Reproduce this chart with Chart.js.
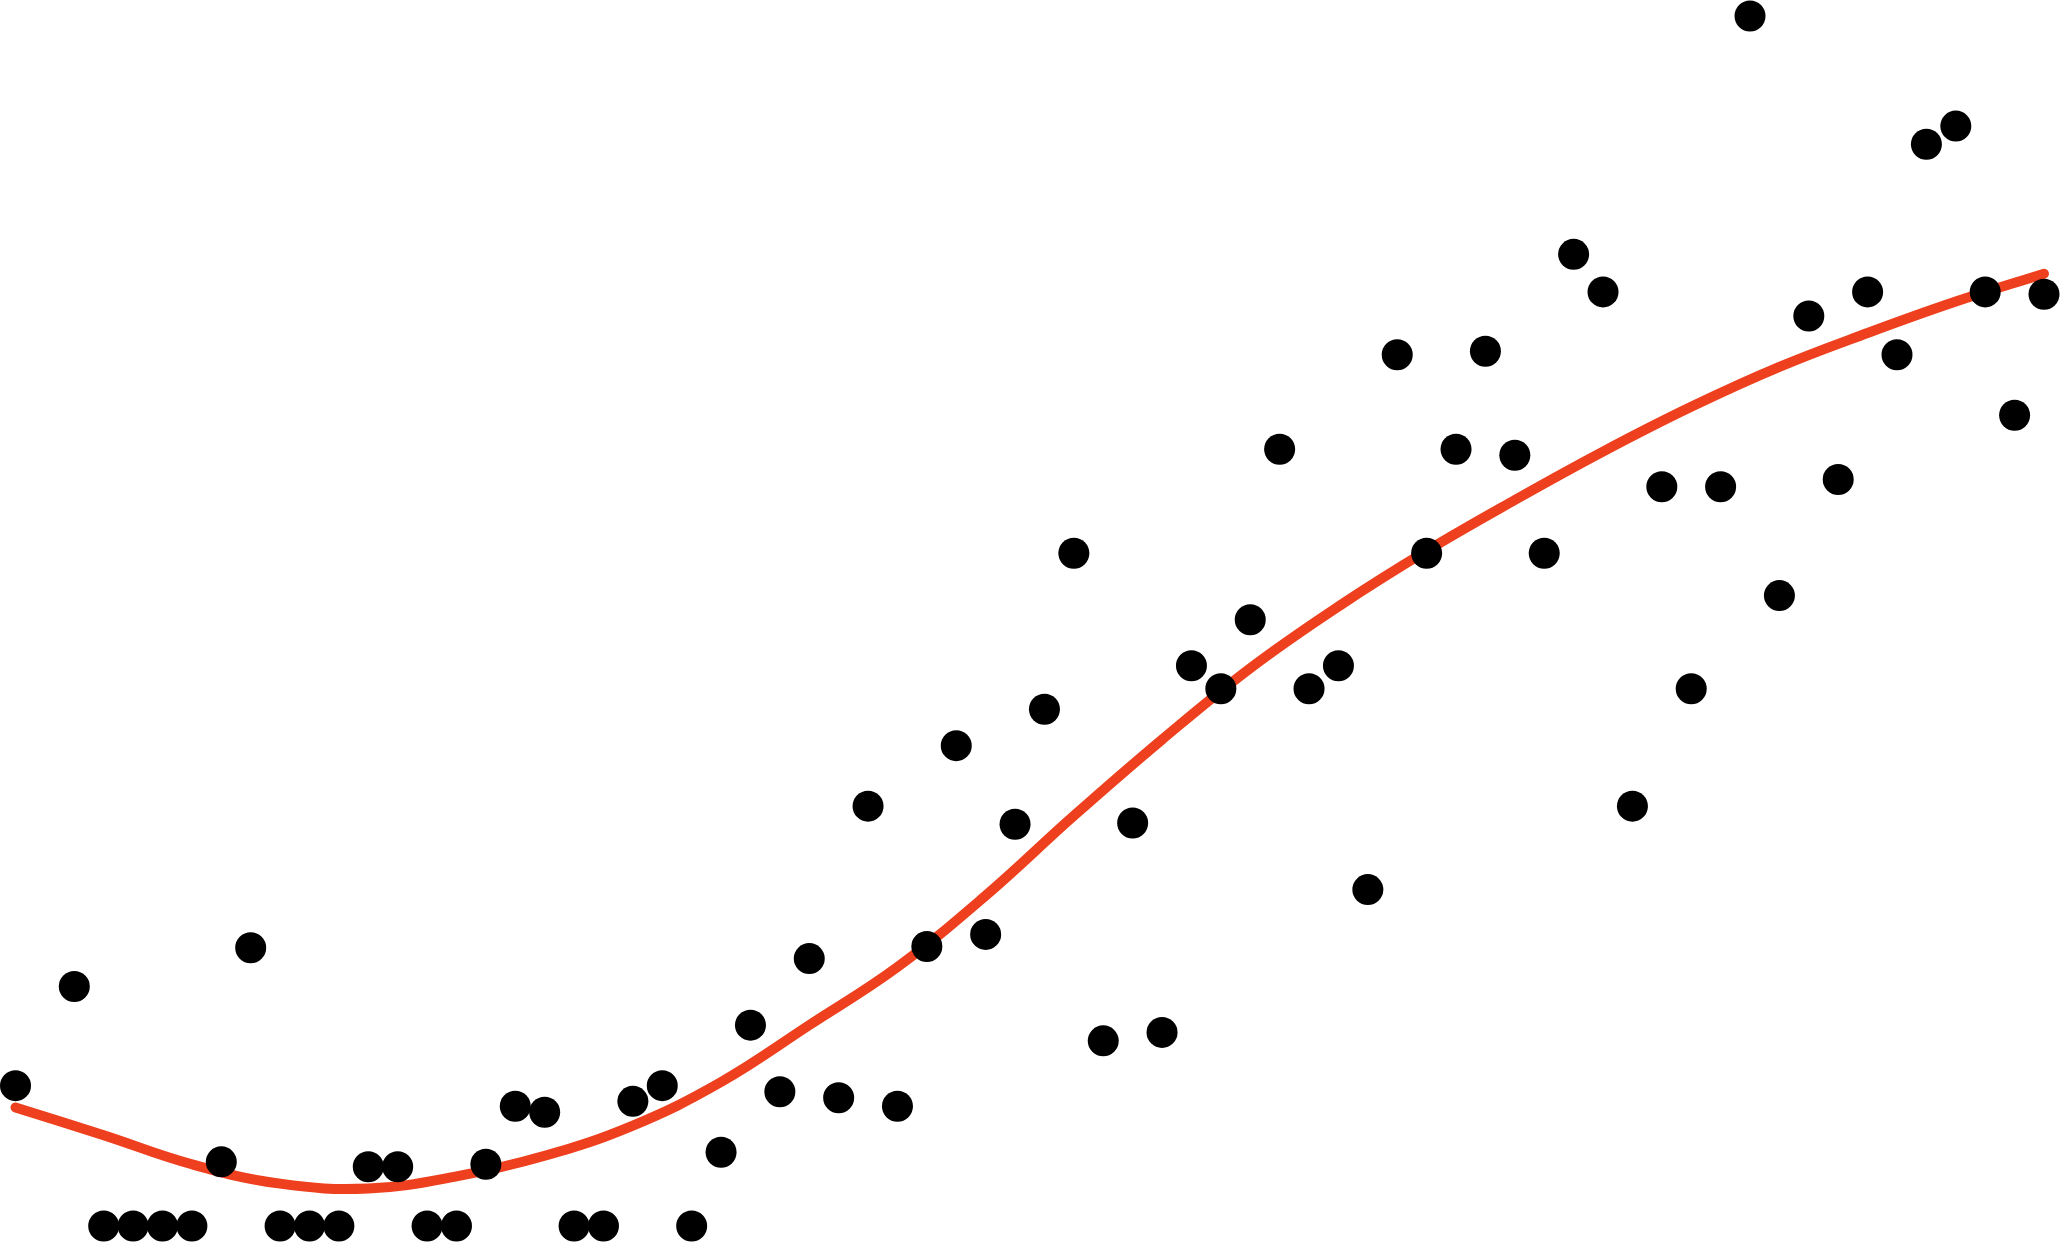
<!DOCTYPE html>
<html lang="en">
<head>
  <meta charset="UTF-8" />
  <title>Scatter with trend</title>
  <script src="https://cdn.jsdelivr.net/npm/chart.js"></script>
  <style>
    html, body {
      margin: 0;
      padding: 0;
      background: #ffffff;
    }
    .wrap {
      width: 2060px;
      height: 1242px;
      position: relative;
    }
  </style>
</head>
<body>
  <div class="wrap">
    <canvas id="chart"></canvas>
  </div>

  <script>
    // observations (x = position index, y = value)
    const pointX = [0, 2, 3, 4, 5, 6, 7, 8, 9, 10, 11, 12, 13, 14, 15, 16, 17, 18, 19, 20,
                    21, 22, 23, 24, 25, 26, 27, 28, 29, 30, 31, 32, 33, 34, 35, 36, 37, 38, 39, 40,
                    41, 42, 43, 44, 45, 46, 47, 48, 49, 50, 51, 52, 53, 54, 55, 56, 57, 58, 59, 60,
                    61, 62, 63, 64, 65, 66, 67, 68, 69];
    const pointY = [11.6, 19.8, 0, 0, 0, 0, 5.3, 23.0, 0, 0, 0, 4.9, 4.9, 0, 0, 5.1, 9.9, 9.4, 0, 0,
                    10.3, 11.6, 0, 6.1, 16.6, 11.1, 22.1, 10.6, 34.7, 9.9, 23.1, 39.7, 24.1, 33.2, 42.7, 55.6, 15.3, 33.3, 16.0, 46.3,
                    44.4, 50.1, 64.2, 44.4, 46.3, 27.8, 72.0, 55.6, 64.2, 72.3, 63.7, 55.6, 80.3, 77.2, 34.7, 61.1, 44.4, 61.1, 100, 52.1,
                    75.2, 61.7, 77.2, 72.0, 89.4, 90.9, 77.2, 67.0, 77.0];

    // smoothed trend
    const trendX = [0, 3, 6, 9, 12, 15, 18, 21, 24, 27, 30, 33, 36, 39, 42, 45, 48, 51, 54, 57, 60, 63, 66, 69];
    const trendY = [9.8, 7.5, 5.1, 3.5, 3.1, 4.1, 5.8, 8.3, 11.9, 16.6, 21.4, 27.3, 33.9, 40.2, 46.1, 51.2, 55.8, 60.0, 64.0, 67.7, 71.0, 73.8, 76.4, 78.7];

    const points = pointX.map((x, i) => ({ x: x, y: pointY[i] }));
    const trend = trendX.map((x, i) => ({ x: x, y: trendY[i] }));

    new Chart(document.getElementById('chart'), {
      type: 'scatter',
      data: {
        datasets: [
          {
            label: 'observed',
            data: points,
            order: 0,
            clip: false,
            pointRadius: 15.5,
            pointHoverRadius: 15.5,
            pointBorderWidth: 0,
            backgroundColor: '#000000',
            borderColor: '#000000'
          },
          {
            label: 'trend',
            type: 'line',
            data: trend,
            order: 1,
            clip: false,
            borderColor: '#EE401E',
            borderWidth: 10,
            borderCapStyle: 'round',
            borderJoinStyle: 'round',
            tension: 0.4,
            pointRadius: 0,
            fill: false
          }
        ]
      },
      options: {
        responsive: true,
        maintainAspectRatio: false,
        animation: false,
        layout: {
          padding: { left: 15, right: 16, top: 16, bottom: 16 }
        },
        plugins: {
          legend: { display: false },
          tooltip: { enabled: false }
        },
        scales: {
          x: { type: 'linear', min: 0, max: 69, display: false },
          y: { type: 'linear', min: 0, max: 100, display: false }
        }
      }
    });
  </script>
</body>
</html>
